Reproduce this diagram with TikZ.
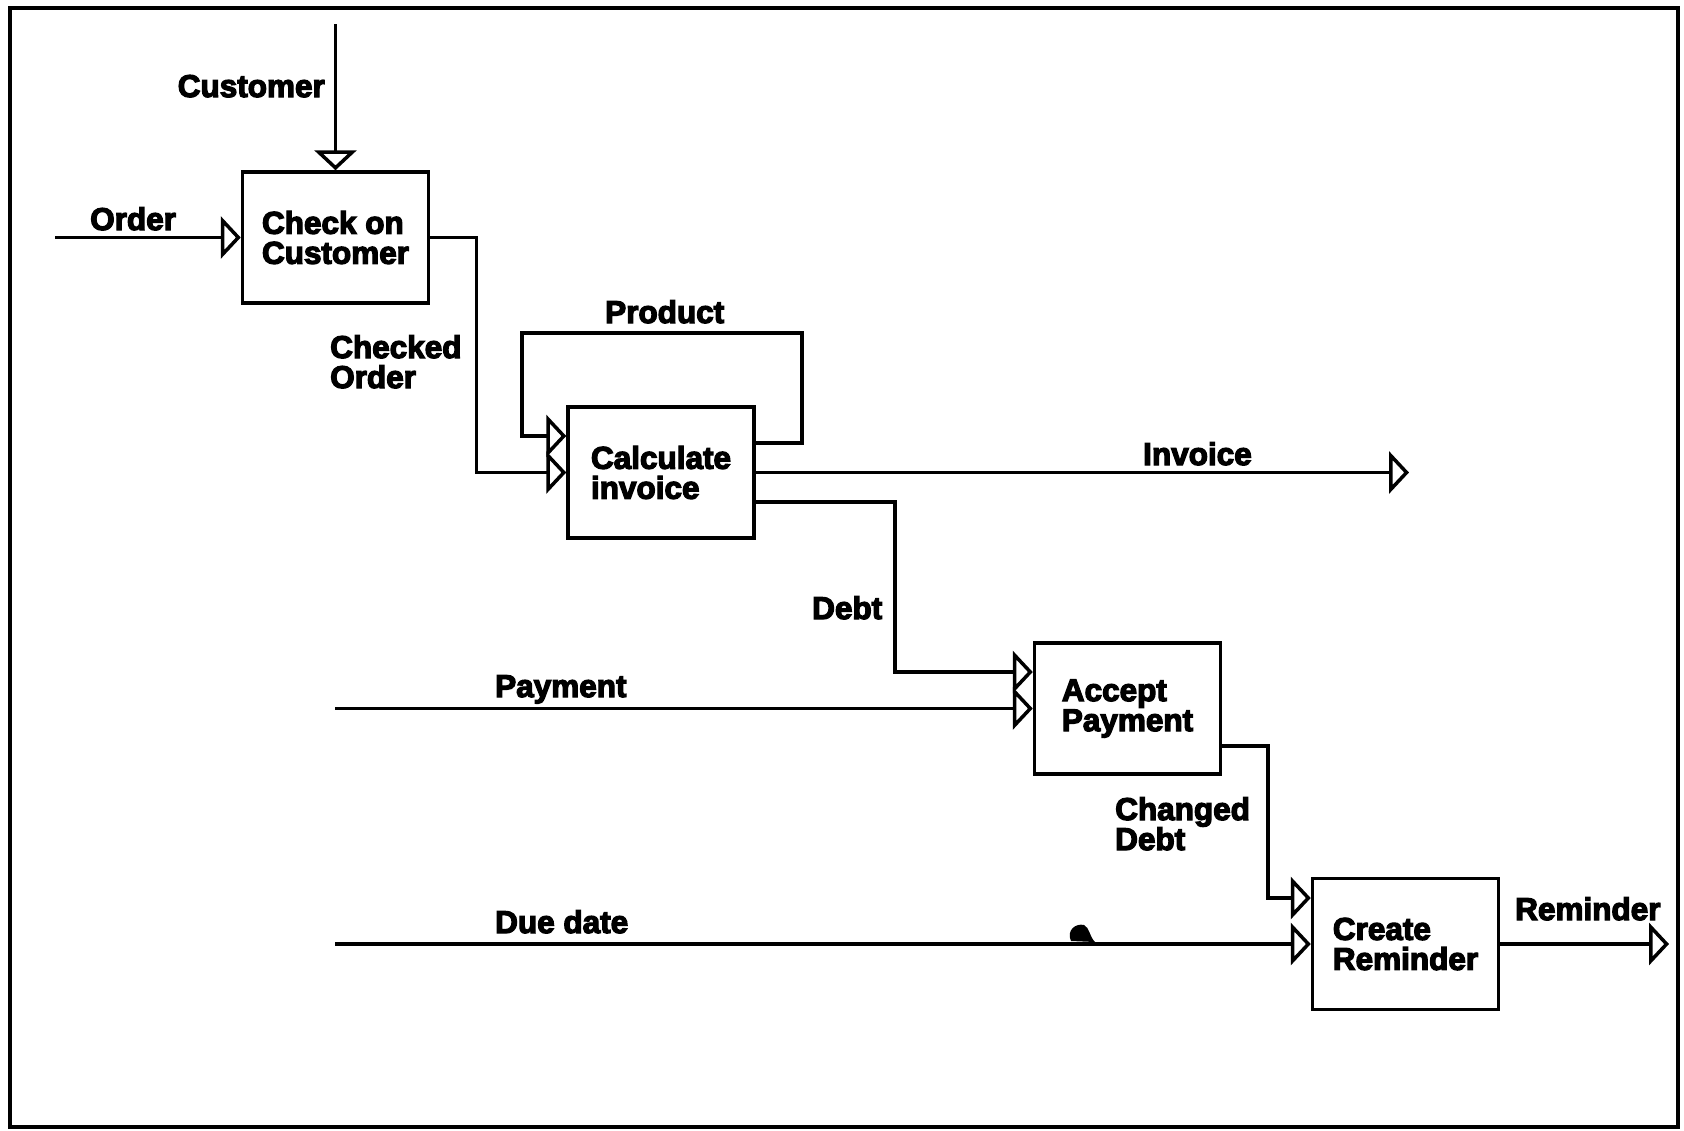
\documentclass[tikz,border=0pt]{standalone}
\usepackage{fontspec}
\setmainfont{Liberation Sans}
\newfontfamily\dfdfont{Liberation Sans Bold}[FakeBold=4]
\usetikzlibrary{arrows.meta,calc}

\tikzset{
  dfdtext/.style={font=\dfdfont\fontsize{31.5}{30}\selectfont},
  flow/.style={line width=3.5pt, line cap=butt,
    -{Triangle[open,length=20pt,width=42pt]}},
  procbox/.style={draw, line width=3.5pt, dfdtext, minimum width=186pt,
    minimum height=131pt, inner sep=0pt, align=left},
  lbl/.style={dfdtext, inner sep=0pt, align=left},
}

\begin{document}
\begin{tikzpicture}[x=1pt,y=-1pt]
  \useasboundingbox (0,0) rectangle (1684,1130);

  % outer frame
  \draw[line width=4.5pt] (10,8) rectangle (1678,1127);

  % processes
  \node[procbox] (check)  at (335.5,237.5) {Check on\\Customer};
  \node[procbox] (calc)   at (661,472.5)   {Calculate\\invoice};
  \node[procbox] (accept) at (1127.5,708.5) {Accept\\Payment};
  \node[procbox] (create) at (1405.5,944)  {Create\\Reminder};

  % free ends of the external flows
  \coordinate (custsrc) at (335.5,24);
  \coordinate (ordsrc)  at (55,237.5);
  \coordinate (paysrc)  at (335,708.5);
  \coordinate (duesrc)  at (335,944);
  \coordinate (invdst)  at (1409,472.5);
  \coordinate (remdst)  at (1669,944);

  % flows
  \draw[flow] (custsrc) -- (check.north);
  \draw[flow] (ordsrc) -- (check.west);
  \draw[flow] (check.east) -- ++(46,0) |- (calc.west);
  \draw[flow] ($(calc.east)+(0,-29.5)$) -| (802,333) -| (522,436)
              -- ($(calc.west)+(0,-36.5)$);
  \draw[flow] (calc.east) -- (invdst);
  \draw[flow] ($(calc.east)+(0,29.5)$) -- ++(139,0)
              |- ($(accept.west)+(0,-36.5)$);
  \draw[flow] (paysrc) -- (accept.west);
  \draw[flow] ($(accept.east)+(0,37.5)$) -- ++(45.5,0)
              |- ($(create.west)+(0,-46)$);
  \draw[flow] (duesrc) -- (create.west);
  \draw[flow] (create.east) -- (remdst);

  % flow labels
  \node[lbl, anchor=base east] (lcust) at (325,97)   {Customer};
  \node[lbl, anchor=base west] (lord)  at (90,230)   {Order};
  \node[lbl, anchor=base west] (lchk)  at (330,388)  {Checked\\Order};
  \node[lbl, anchor=base west] (lprod) at (605,323)  {Product};
  \node[lbl, anchor=base west] (linv)  at (1143,465) {Invoice};
  \node[lbl, anchor=base west] (ldebt) at (812,619)  {Debt};
  \node[lbl, anchor=base west] (lpay)  at (495,697)  {Payment};
  \node[lbl, anchor=base west] (lchg)  at (1115,850) {Changed\\Debt};
  \node[lbl, anchor=base west] (ldue)  at (495,933)  {Due date};
  \node[lbl, anchor=base west] (lrem)  at (1515,920) {Reminder};

  % small ink blot on the due-date line
  \fill (1071,941) .. controls (1066,930) and (1076,923) .. (1084,925)
        .. controls (1090,928) and (1089,936) .. (1095,942) -- cycle;
\end{tikzpicture}
\end{document}
